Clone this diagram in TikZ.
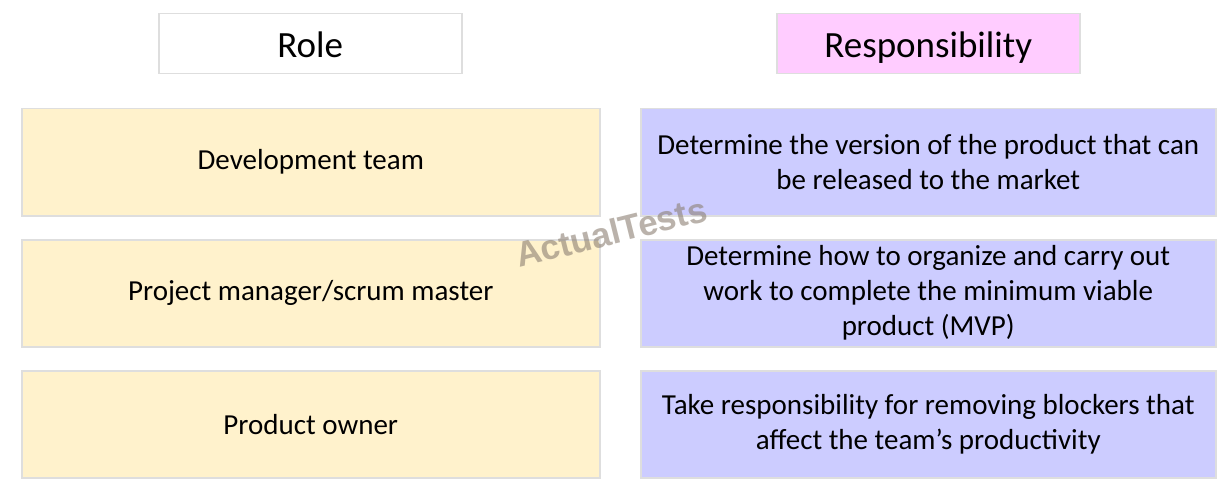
\documentclass[tikz,border=0pt]{standalone}
\usepackage{fontspec}
\setmainfont{Carlito}
\newfontfamily\markfont{Liberation Sans}
\begin{document}
\begin{tikzpicture}[x=1pt,y=-1pt,
  cell/.style={draw=boxline,line width=1.5pt,inner sep=0pt,anchor=north west,align=center,font=\fontsize{29}{35}\selectfont},
  head/.style={cell,font=\fontsize{37}{40}\selectfont,text height=33pt,text depth=6pt},
  rolecell/.style={cell,fill=rolefill},
  taskcell/.style={cell,fill=taskfill}]
\definecolor{boxline}{RGB}{222,222,222}
\definecolor{rolefill}{RGB}{255,242,204}
\definecolor{taskfill}{RGB}{204,204,255}
\definecolor{headfill}{RGB}{255,204,255}
\useasboundingbox[fill=white] (0,0) rectangle (1230,497);
% column headers
\node[head,minimum width=303pt,minimum height=60pt] (hrole) at (158,13) {Role};
\node[head,fill=headfill,minimum width=303pt,minimum height=60pt] (hresp) at (776,13) {Responsibility};
% roles
\node[rolecell,minimum width=578pt,minimum height=107pt] (r1) at (21,108) {Development team};
\node[rolecell,minimum width=578pt,minimum height=107pt] (r2) at (21,239) {Project manager/scrum master};
\node[rolecell,minimum width=578pt,minimum height=107pt] (r3) at (21,370) {Product owner};
% responsibilities
\node[taskcell,minimum width=575pt,minimum height=107pt] (t1) at (640,108) {Determine the version of the product that can\\be released to the market};
\node[taskcell,minimum width=575pt,minimum height=107pt] (t2) at (640,239) {Determine how to organize and carry out\\work to complete the minimum viable\\product (MVP)};
\node[taskcell,minimum width=575pt,minimum height=107pt] (t3) at (640,370) {Take responsibility for removing blockers that\\affect the team’s productivity};
% watermark
\node[rotate=14,inner sep=0pt,text=gray!80!brown,opacity=0.6,font=\markfont\bfseries\fontsize{35}{35}\selectfont] (mark) at (611,232) {ActualTests};
\end{tikzpicture}
\end{document}
